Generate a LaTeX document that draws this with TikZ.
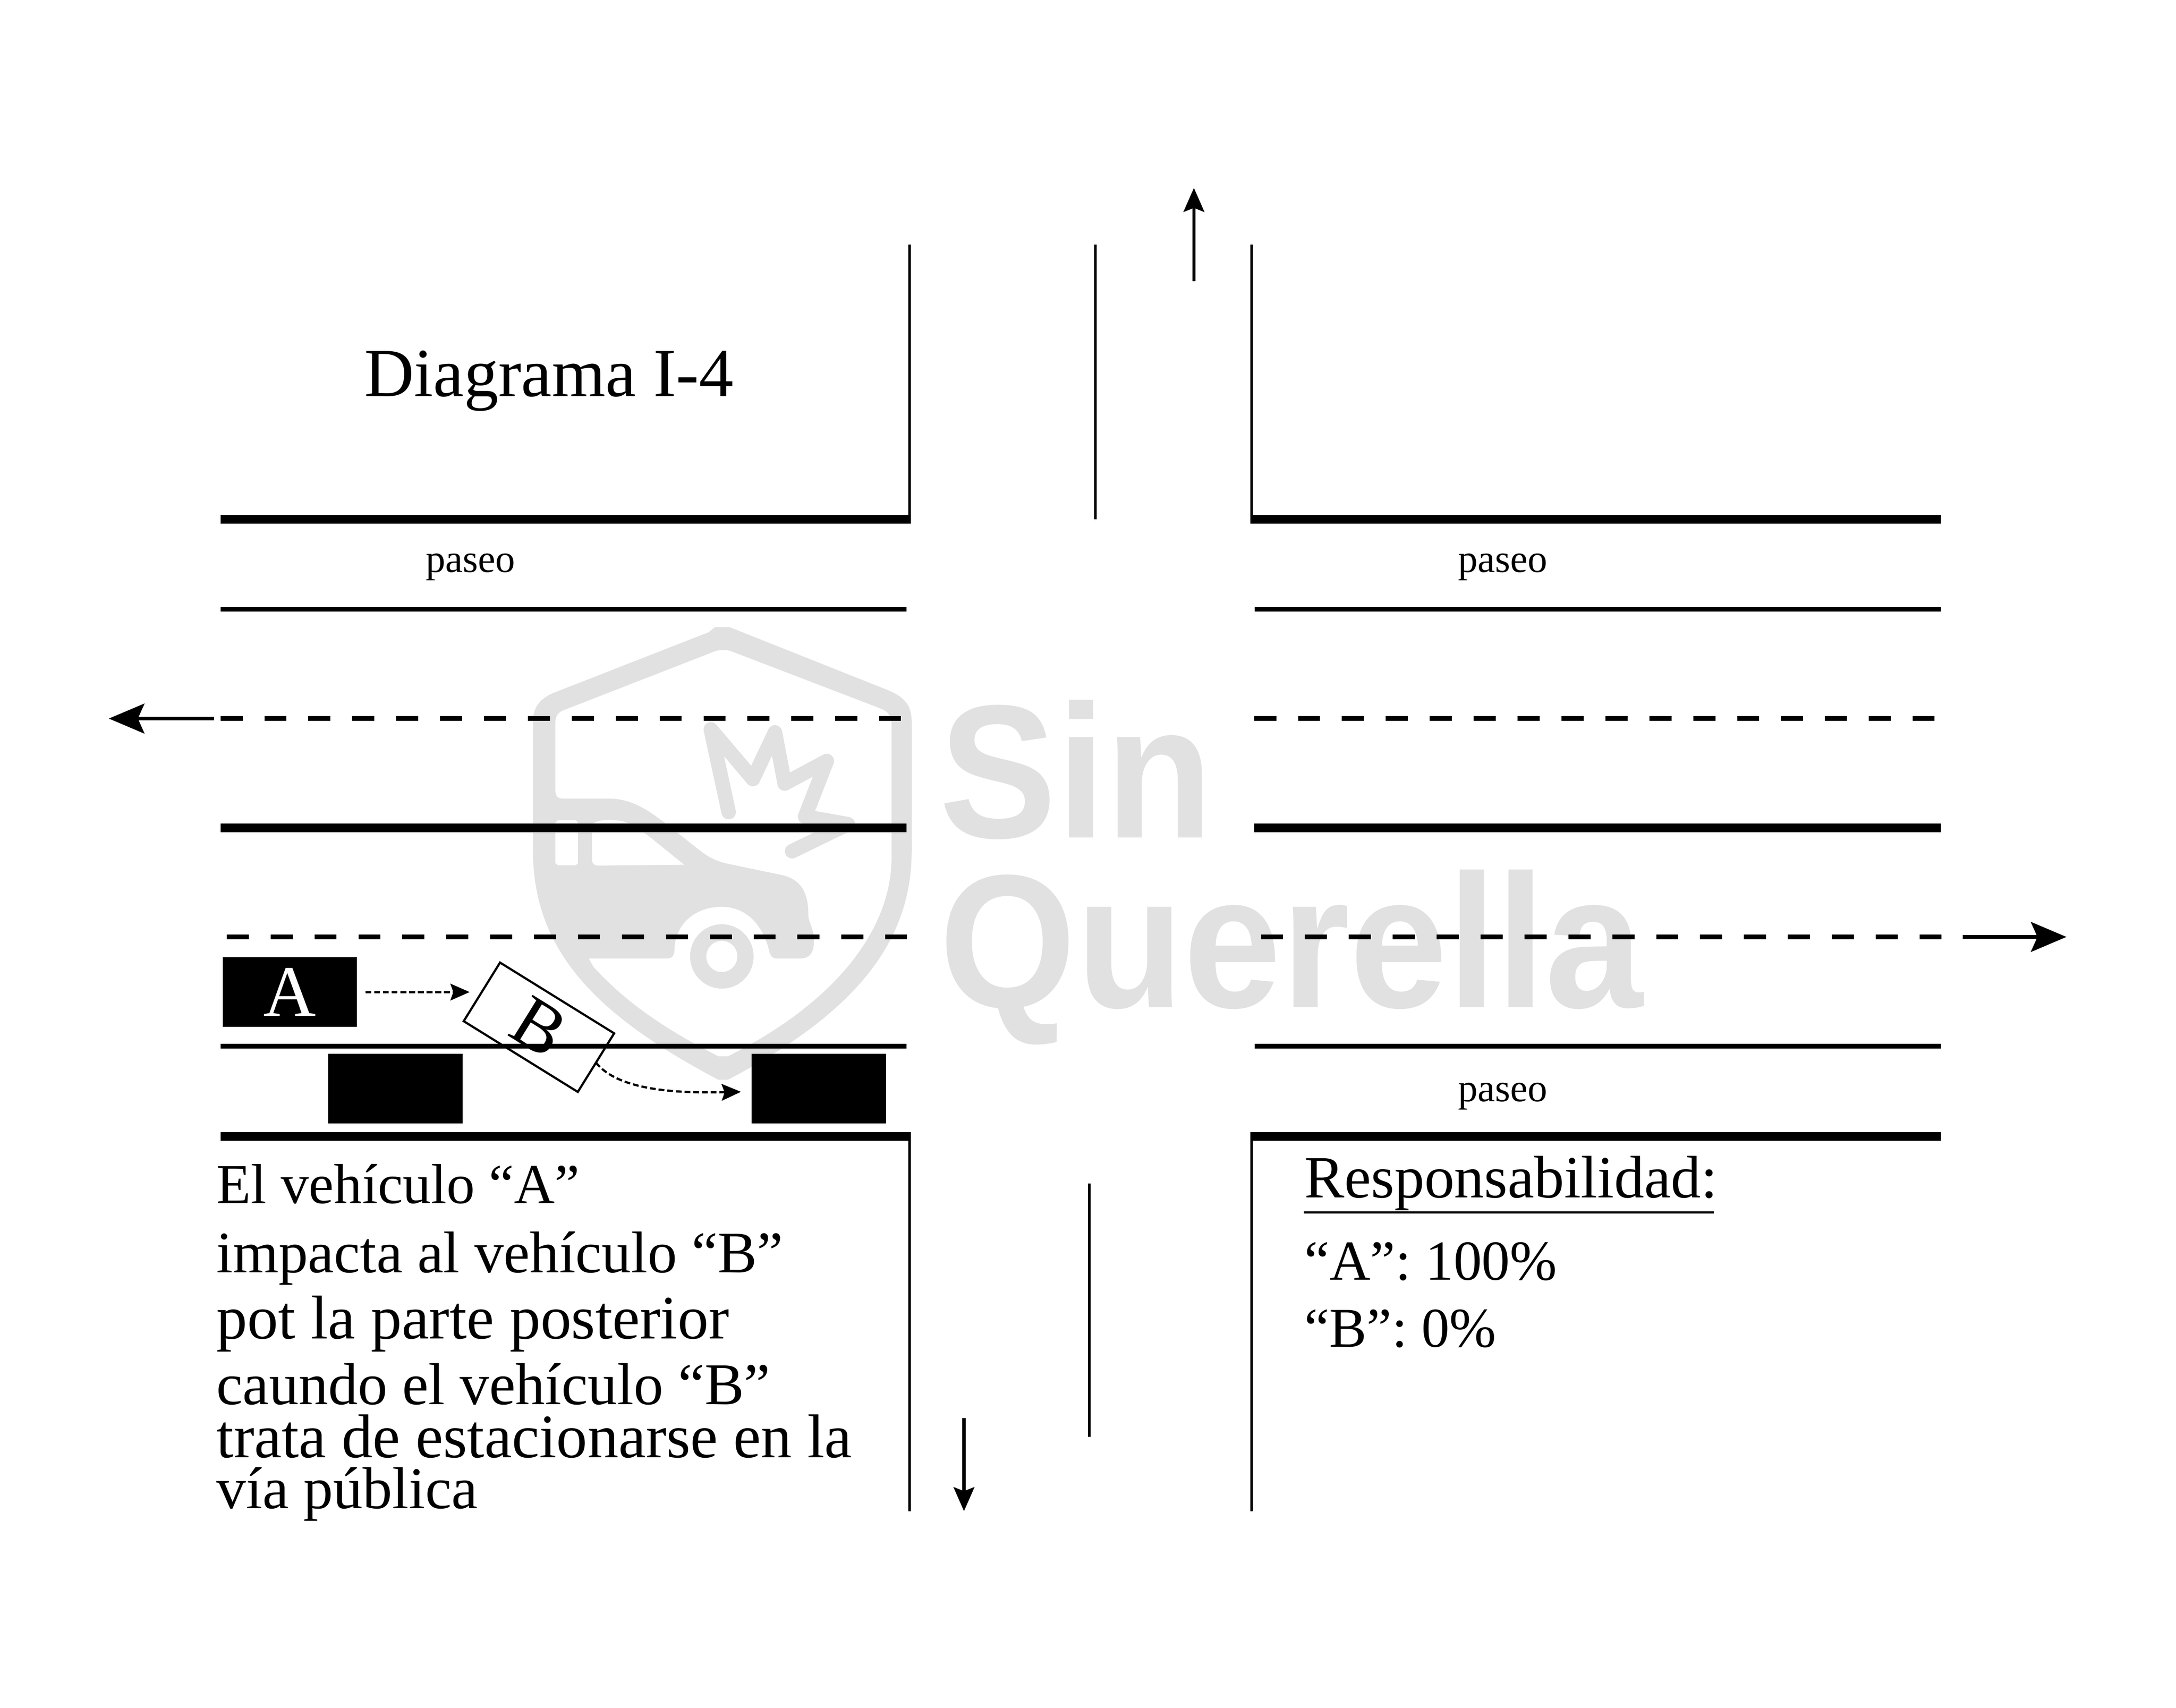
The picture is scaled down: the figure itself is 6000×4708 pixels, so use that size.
\documentclass[tikz,border=0pt]{standalone}
\usepackage{fontspec}
\setmainfont{Liberation Serif}
\newfontfamily\marca[FakeStretch=0.925]{Liberation Sans}
\usetikzlibrary{arrows.meta}
\definecolor{marcagris}{HTML}{E1E1E1}
\tikzset{
  curb/.style={line width=0.235cm},
  laneline/.style={line width=0.13cm},
  midline/.style={line width=0.24cm},
  laneguion/.style={line width=0.135cm, dash pattern=on 0.61cm off 0.60cm},
  wall/.style={line width=0.08cm},
  flecha/.style={line width=0.09cm, -{Stealth[length=0.66cm,width=0.57cm,inset=0.11cm]}},
  flechaguia/.style={line width=0.1cm, -{Stealth[length=0.98cm,width=0.82cm,inset=0.18cm]}},
  rastro/.style={line width=0.06cm, dash pattern=on 0.16cm off 0.08cm, -{Stealth[length=0.53cm,width=0.46cm,inset=0.08cm]}},
  carnegro/.style={rectangle, fill=black, minimum width=3.7cm, minimum height=1.92cm, inner sep=0pt, outer sep=0pt},
  texto/.style={anchor=base west, inner sep=0pt, outer sep=0pt},
  paseotxt/.style={anchor=base west, inner sep=0pt, outer sep=0pt, font=\fontsize{30.8}{30.8}\selectfont},
  marcatxt/.style={anchor=base west, inner sep=0pt, text=marcagris, font=\marca\bfseries\fontsize{149}{149}\selectfont}
}

\begin{document}
\begin{tikzpicture}[x=0.01cm, y=-0.01cm]
\useasboundingbox (0,0) rectangle (6000,4708);

% watermark
\begin{scope}[shift={(1400,1700)}, x=0.00893cm, y=-0.00829cm]
\fill[marcagris, even odd rule]
  (640,35) -- (685,35) -- (1175,245) .. controls (1230,270) and (1247,300) .. (1247,350)
  -- (1247,780) .. controls (1247,1100) and (1050,1330) .. (680,1540) -- (650,1540)
  .. controls (300,1340) and (78,1130) .. (78,780) -- (78,350)
  .. controls (78,300) and (100,270) .. (150,250) -- (620,52) -- cycle
  (640,115) .. controls (650,110) and (680,110) .. (690,115) -- (1150,305)
  .. controls (1175,315) and (1185,330) .. (1185,360) -- (1185,800)
  .. controls (1185,1050) and (1000,1290) .. (680,1462) -- (650,1462)
  .. controls (500,1380) and (370,1290) .. (265,1165) -- (250,1137) -- (490,1137)
  .. controls (510,1137) and (515,1125) .. (515,1100)
  .. controls (520,1020) and (580,965) .. (660,965)
  .. controls (740,965) and (790,1030) .. (808,1115)
  .. controls (812,1132) and (820,1137) .. (835,1137) -- (900,1137)
  .. controls (935,1137) and (945,1115) .. (945,1080)
  .. controls (945,1030) and (928,1020) .. (928,990)
  .. controls (928,910) and (900,870) .. (840,858) -- (680,822)
  .. controls (640,812) and (620,800) .. (590,775) -- (490,690)
  .. controls (430,640) and (380,605) .. (310,605) -- (170,605)
  .. controls (152,605) and (147,595) .. (147,575) -- (147,355)
  .. controls (147,330) and (155,318) .. (175,310) -- cycle
  (155,677) -- (210,677) -- (217,685) -- (217,820) -- (210,827) -- (155,827) -- (147,820) -- (147,685) -- cycle
  (260,690) .. controls (280,672) and (340,670) .. (380,690) -- (430,725) -- (545,825) -- (280,828)
  .. controls (265,828) and (260,820) .. (260,805) -- cycle;
\fill[marcagris, even odd rule] (661,1130) ellipse [x radius=98, y radius=107]
  (661,1130) ellipse [x radius=48, y radius=52];
\draw[marcagris, line width=0.4cm, line cap=round, line join=round]
  (682,650) -- (627,375) -- (757,540) -- (825,385) -- (855,555) -- (985,480) -- (918,665) -- (1050,690) -- (878,780);
\end{scope}
\node[marcatxt] (sin) at (2590,2309) {Sin};
\node[marcatxt] (querella) at (2590,2777) {Querella};

% left side of the road
\draw[curb] (608,1431.5) -- (2512,1431.5);
\draw[curb] (608,3133.5) -- (2511,3133.5);
\draw[wall] (2508,674) -- (2508,1431);
\draw[wall] (2508,3133) -- (2508,4166);
\foreach \y in {1680,2884}
\draw[laneline] (608,\y) -- (2500,\y);
\draw[midline] (608,2282) -- (2500,2282);
\draw[laneguion] (608,1981) -- (2484,1981);
\draw[laneguion] (625,2583) -- (2501,2583);

% right side of the road
\draw[curb] (3447,1431.5) -- (5352,1431.5);
\draw[curb] (3447,3133.5) -- (5352,3133.5);
\draw[wall] (3451,674) -- (3451,1431);
\draw[wall] (3451,3133) -- (3451,4166);
\foreach \y in {1680,2884}
\draw[laneline] (3460,\y) -- (5352,\y);
\draw[midline] (3458,2282) -- (5352,2282);
\draw[laneguion] (3458,1981) -- (5334,1981);
\draw[laneguion] (3477,2583) -- (5353,2583);

% centre lines
\draw[line width=0.07cm] (3020,674) -- (3020,1431);
\draw[line width=0.07cm] (3004,3263) -- (3004,3961);

% traffic directions
\draw[flechaguia] (590,1981) -- (300,1981);
\draw[flechaguia] (5412,2583) -- (5698,2583);
\draw[flecha] (3292,775) -- (3292,518);
\draw[flecha] (2658,3909) -- (2658,4166);

% cars
\node[carnegro, text=white, font=\fontsize{57}{57}\selectfont] (carA) at (799,2735) {A};
\node[carnegro] (carL) at (1090,3001) {};
\node[carnegro] (carR) at (2258,3001) {};
\node[rectangle, draw, line width=0.06cm, minimum width=3.7cm, minimum height=1.9cm, inner sep=0pt, outer sep=0pt,
  rotate=-31.8, font=\fontsize{57}{57}\selectfont] (carB) at (1486,2832) {B};
\coordinate (tipA) at (1295,2735);
\coordinate (tipB) at (2043,3010);
\draw[rastro, shorten <=0.24cm] (carA.east) -- (tipA);
\draw[rastro] (carB.east) .. controls (1700,3000) and (1840,3015) .. (tipB);

% texts
\node[texto, font=\fontsize{54}{54}\selectfont] (titulo) at (1005,1092) {Diagrama I-4};
\node[paseotxt] (paseoA) at (1174,1577) {paseo};
\node[paseotxt] (paseoB) at (4020,1577) {paseo};
\node[paseotxt] (paseoC) at (4020,3036) {paseo};
\node[texto, font=\fontsize{44.2}{44.2}\selectfont] (lineaA) at (597,3317) {El vehículo “A”};
\node[texto, font=\fontsize{46.1}{46.1}\selectfont] (lineaB) at (597,3508) {impacta al vehículo “B”};
\node[texto, font=\fontsize{48.4}{48.4}\selectfont] (lineaC) at (597,3691) {pot la parte posterior};
\node[texto, font=\fontsize{46.4}{46.4}\selectfont] (lineaD) at (597,3872) {caundo el vehículo “B”};
\node[texto, font=\fontsize{48.5}{48.5}\selectfont] (lineaE) at (597,4018) {trata de estacionarse en la};
\node[texto, font=\fontsize{46.4}{46.4}\selectfont] (lineaF) at (597,4159) {vía pública};
\node[texto, font=\fontsize{47}{47}\selectfont] (resp) at (3597,3302) {Responsabilidad:};
\draw[line width=0.06cm] (3595,3343) -- (4725,3343);
\node[texto, font=\fontsize{44.3}{44.3}\selectfont] (respA) at (3597,3529) {“A”: 100\%};
\node[texto, font=\fontsize{44}{44}\selectfont] (respB) at (3597,3713) {“B”: 0\%};
\end{tikzpicture}
\end{document}
